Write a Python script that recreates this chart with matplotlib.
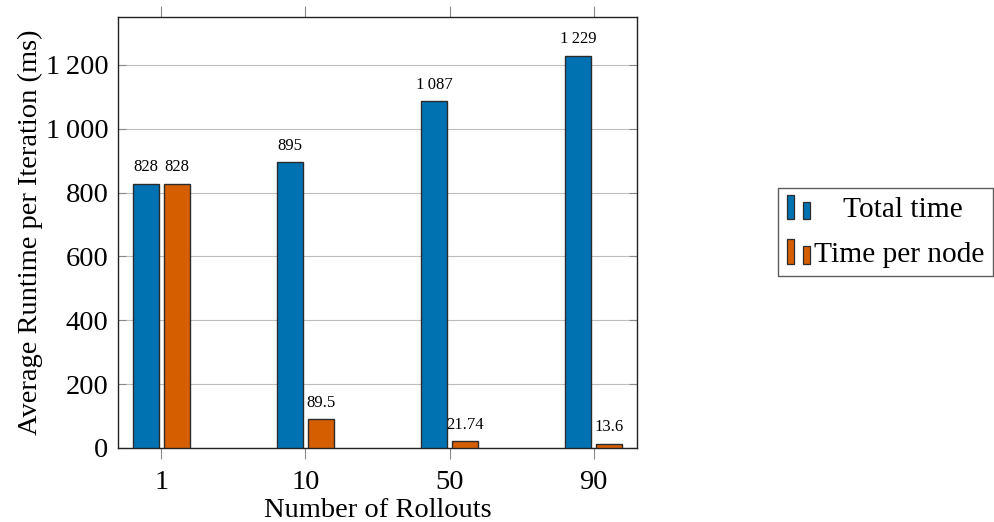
import matplotlib
matplotlib.use("Agg")
import matplotlib.pyplot as plt
import numpy as np
from matplotlib.patches import Rectangle
from matplotlib.legend_handler import HandlerBase
from matplotlib.ticker import FuncFormatter

plt.rcParams['font.family'] = ['Liberation Serif', 'DejaVu Serif']

# Data
rollouts = ["1", "10", "50", "90"]
total_time = [828, 895, 1087, 1229]
time_per_node = [828, 89.5, 21.74, 13.6]
total_labels = ["828", "895", "1\u2009087", "1\u2009229"]
node_labels = ["828", "89.5", "21.74", "13.6"]

blue = "#0072B2"
orange = "#D55E00"
edge = "#2b2b2b"
FS = 20.5

fig = plt.figure(figsize=(9.95, 5.22), dpi=100)
ax = fig.add_axes([0.1186, 0.1418, 0.5216, 0.8257])

x = np.arange(len(rollouts))
w = 0.18
off = 0.108
b1 = ax.bar(x - off, total_time, w, color=blue, edgecolor=edge, linewidth=1.0, zorder=3)
b2 = ax.bar(x + off, time_per_node, w, color=orange, edgecolor=edge, linewidth=1.0, zorder=3)

for bars, labs in ((b1, total_labels), (b2, node_labels)):
    for r, t in zip(bars, labs):
        ax.annotate(t, (r.get_x() + r.get_width() / 2, r.get_height()),
                    xytext=(0, 6), textcoords="offset points",
                    ha="center", va="bottom", fontsize=12)

ax.set_xlim(-0.3, 3.3)
ax.set_ylim(0, 1350)
ax.set_xticks(x)
ax.set_xticklabels(rollouts)
ax.set_yticks(np.arange(0, 1201, 200))
ax.yaxis.set_major_formatter(FuncFormatter(
    lambda v, p: f"{int(v):,}".replace(",", "\u2009")))

ax.grid(axis="y", color="#bdbdbd", linewidth=0.8, zorder=0)
ax.tick_params(axis="x", direction="out", length=8, width=0.8, color="#8a8a8a",
               top=True, labeltop=False, labelsize=FS, pad=8)
ax.tick_params(axis="y", direction="in", length=6, width=0.8, color="#8a8a8a",
               right=True, labelsize=FS, pad=7)
for s in ax.spines.values():
    s.set_color("#222222")
    s.set_linewidth(1.0)

ax.set_xlabel("Number of Rollouts", fontsize=FS, labelpad=2)
ax.set_ylabel("Average Runtime per Iteration (ms)", fontsize=FS, labelpad=2)


class TwoBarHandler(HandlerBase):
    """Legend key made of two small bars, tall then short."""

    def __init__(self, color):
        super().__init__()
        self.color = color

    def create_artists(self, legend, orig_handle, xdescent, ydescent,
                       width, height, fontsize, trans):
        bw = width * 0.3
        y0 = -ydescent - height * 0.1
        r1 = Rectangle((-xdescent, y0), bw, height * 1.2,
                       facecolor=self.color, edgecolor=edge, linewidth=0.9,
                       transform=trans)
        r2 = Rectangle((-xdescent + width * 0.7, y0), bw,
                       height * 0.85, facecolor=self.color, edgecolor=edge,
                       linewidth=0.9, transform=trans)
        return [r1, r2]


h1 = Rectangle((0, 0), 1, 1)
h2 = Rectangle((0, 0), 1, 1)
leg = fig.legend([h1, h2], ["    Total time", "Time per node"],
                 handler_map={h1: TwoBarHandler(blue), h2: TwoBarHandler(orange)},
                 loc="upper left", bbox_to_anchor=(0.782, 0.640),
                 fontsize=21.2, frameon=True, fancybox=False,
                 handlelength=0.8, handletextpad=0.12, borderpad=0.3,
                 labelspacing=0.6, borderaxespad=0)
leg.get_frame().set_edgecolor("#333333")
leg.get_frame().set_linewidth(1.0)

fig.savefig("out.png", dpi=100)
